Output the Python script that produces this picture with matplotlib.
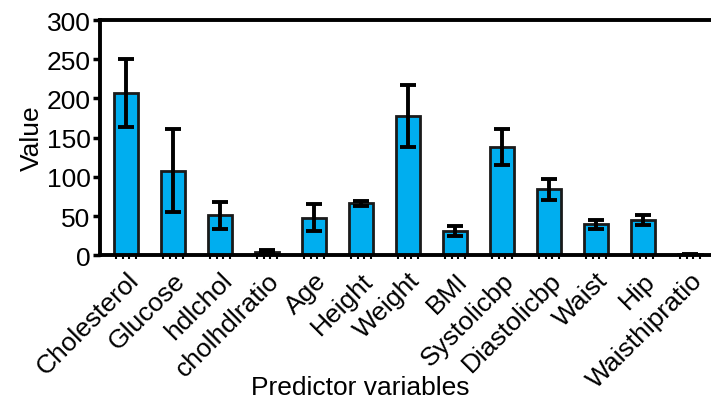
import numpy as np
import matplotlib
matplotlib.use('Agg')
import matplotlib.pyplot as plt

plt.rcParams['font.family'] = ['Liberation Sans', 'DejaVu Sans']

categories = ['Cholesterol', 'Glucose', 'hdlchol', 'cholhdlratio', 'Age', 'Height',
              'Weight', 'BMI', 'Systolicbp', 'Diastolicbp', 'Waist', 'Hip', 'Waisthipratio']
means = [207, 108, 51, 4.5, 48, 66, 177.5, 31, 138, 84, 39.5, 45, 0.9]
sds = [44, 53, 17, 1.7, 17, 3.5, 40, 6, 23, 13.5, 6, 6, 0.1]
yticks = [0, 50, 100, 150, 200, 250, 300]

fig = plt.figure(figsize=(7.11, 4.06), dpi=100)
ax = fig.add_axes([0.141, 0.369, 0.859, 0.579])

x = np.arange(len(categories))
ax.bar(x, means, width=0.51, color='#00AEEF', edgecolor='#1a1a1a', linewidth=2, zorder=2)
ax.errorbar(x, means, yerr=sds, fmt='none', ecolor='black', elinewidth=2.8,
            capsize=6, capthick=2.8, zorder=3)

ax.set_xlim(-0.55, 12.45)
ax.set_ylim(0, 300)
ax.set_yticks(yticks)
ax.set_xticks(x)
ax.set_xticklabels(categories, rotation=45, ha='right', rotation_mode='anchor', fontsize=19)
minor = np.concatenate([x + d for d in (-0.21, -0.07, 0.07, 0.21)])
ax.set_xticks(minor, minor=True)
ax.tick_params(axis='x', which='major', length=0, pad=9)
ax.tick_params(axis='x', which='minor', length=3, width=1.5, direction='out')
ax.tick_params(axis='y', length=5, width=2.5, labelsize=19, pad=2)

for s in ['left', 'bottom', 'top']:
    ax.spines[s].set_linewidth(2.8)
ax.spines['right'].set_visible(False)

ax.set_ylabel('Value', fontsize=19, labelpad=2)
ax.set_xlabel('Predictor variables', fontsize=19)
ax.xaxis.set_label_coords(0.425, -0.51)

fig.savefig('out.png', dpi=100)
